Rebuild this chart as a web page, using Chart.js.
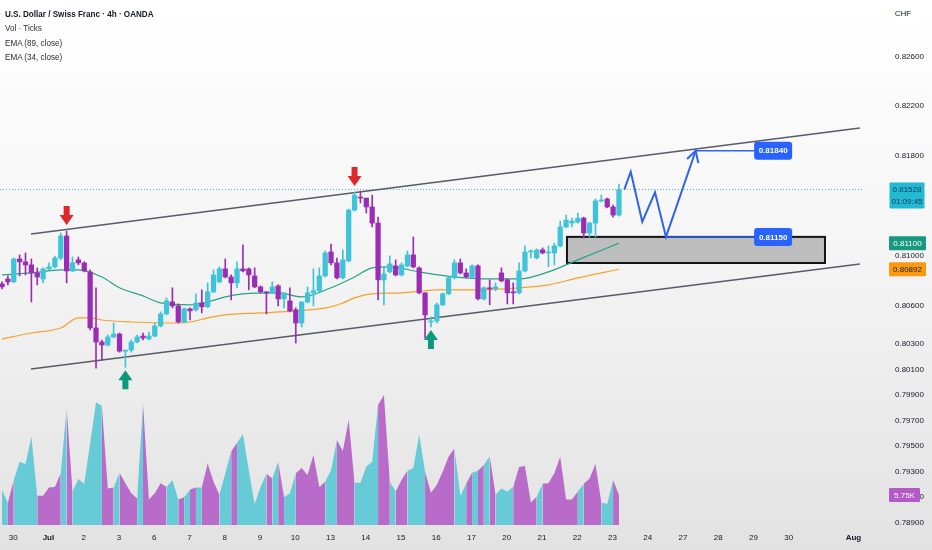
<!DOCTYPE html>
<html lang="en">
<head>
<meta charset="UTF-8">
<title>USDCHF 4h</title>
<script src="https://cdn.jsdelivr.net/npm/chart.js"></script>
<style>
  html, body { margin: 0; padding: 0; }
  body {
    width: 932px; height: 550px; overflow: hidden; position: relative;
    background: linear-gradient(to bottom, #ffffff 0%, #f5f5f5 45%, #e2e2e2 100%);
    font-family: "Liberation Sans", Arial, sans-serif;
  }
  #chart { position: absolute; left: 0; top: 0; }
  #legend {
    position: absolute; left: 5px; top: 7px; font-size: 9px; line-height: 14.3px;
    color: #131722; transform: scaleX(0.9); transform-origin: left top; white-space: nowrap;
  }
  #legend .sub { color: #2a2e39; }
  #ccy {
    position: absolute; left: 892px; top: 5px; width: 22px; height: 18px; background: #fff;
    font-size: 8px; line-height: 18px; text-align: center; color: #131722;
  }
</style>
</head>
<body>
<canvas id="chart" width="932" height="550"></canvas>
<div id="legend">
  <div><b>U.S. Dollar / Swiss Franc · 4h · OANDA</b></div>
  <div class="sub">Vol · Ticks</div>
  <div class="sub">EMA (89, close)</div>
  <div class="sub">EMA (34, close)</div>
</div>
<div id="ccy">CHF</div>

<script>
// 4h candles
const opens = [0.80776,0.80815,0.80792,0.80974,0.80951,0.80927,0.80863,0.80815,0.80895,0.80911,
  0.80982,0.81157,0.80879,0.80967,0.80943,0.80871,0.80427,0.80316,0.80292,0.80356,
  0.80379,0.80244,0.80252,0.80316,0.80363,0.80340,0.80363,0.80443,0.80538,0.80633,
  0.80602,0.80474,0.80578,0.80570,0.80625,0.80594,0.80713,0.80792,0.80895,0.80831,
  0.80784,0.80895,0.80895,0.80839,0.80752,0.80713,0.80705,0.80760,0.80657,0.80641,
  0.80570,0.80466,0.80633,0.80705,0.80721,0.80839,0.81030,0.80943,0.80824,0.80959,
  0.81364,0.81468,0.81460,0.81389,0.81260,0.80808,0.80871,0.80919,0.80847,0.80919,
  0.81006,0.80903,0.80705,0.80474,0.80482,0.80610,0.80697,0.80824,0.80943,0.80863,
  0.80831,0.80919,0.80657,0.80745,0.80737,0.80863,0.80808,0.80713,0.80705,0.80879,
  0.81030,0.80982,0.81046,0.81022,0.81022,0.81078,0.81229,0.81260,0.81268,0.81300,
  0.81181,0.81260,0.81437,0.81453,0.81389,0.81324];
const highs = [0.80792,0.80839,0.80982,0.81006,0.81022,0.80974,0.80903,0.80903,0.80943,0.80998,
  0.81181,0.81197,0.80990,0.80990,0.80951,0.80887,0.80745,0.80332,0.80371,0.80466,
  0.80387,0.80252,0.80332,0.80371,0.80387,0.80395,0.80466,0.80554,0.80665,0.80745,
  0.80617,0.80586,0.80586,0.80697,0.80729,0.80784,0.80887,0.80911,0.80974,0.80847,
  0.80951,0.81086,0.80903,0.80903,0.80760,0.80713,0.80792,0.80768,0.80705,0.80745,
  0.80586,0.80633,0.80752,0.80895,0.80903,0.81038,0.81093,0.80982,0.81046,0.81372,
  0.81508,0.81516,0.81460,0.81484,0.81308,0.80911,0.80998,0.80967,0.80943,0.81038,
  0.81149,0.80911,0.80705,0.80514,0.80625,0.80705,0.80831,0.80967,0.80974,0.80895,
  0.80927,0.80927,0.80752,0.80808,0.80784,0.80903,0.80815,0.80784,0.80943,0.81078,
  0.81046,0.81054,0.81062,0.81078,0.81101,0.81276,0.81324,0.81300,0.81340,0.81308,
  0.81268,0.81453,0.81484,0.81460,0.81405,0.81572];
const lows = [0.80736,0.80768,0.80784,0.80839,0.80847,0.80633,0.80768,0.80784,0.80887,0.80903,
  0.80967,0.80784,0.80871,0.80927,0.80871,0.80411,0.80109,0.80173,0.80284,0.80348,
  0.80236,0.80117,0.80236,0.80308,0.80332,0.80332,0.80356,0.80435,0.80530,0.80586,
  0.80466,0.80466,0.80490,0.80562,0.80546,0.80586,0.80705,0.80784,0.80824,0.80649,
  0.80745,0.80871,0.80729,0.80745,0.80705,0.80538,0.80697,0.80602,0.80586,0.80554,
  0.80308,0.80435,0.80625,0.80602,0.80713,0.80831,0.80927,0.80815,0.80815,0.80951,
  0.81356,0.81421,0.81340,0.81229,0.80649,0.80610,0.80863,0.80839,0.80839,0.80911,
  0.80903,0.80697,0.80348,0.80435,0.80466,0.80602,0.80689,0.80815,0.80855,0.80824,
  0.80824,0.80649,0.80649,0.80610,0.80721,0.80792,0.80617,0.80617,0.80697,0.80871,
  0.80982,0.80974,0.81014,0.80911,0.80927,0.81070,0.81221,0.81229,0.81260,0.81141,
  0.81149,0.81149,0.81429,0.81382,0.81308,0.81316];
const closes = [0.80752,0.80792,0.80974,0.80951,0.80927,0.80863,0.80831,0.80895,0.80911,0.80982,
  0.81157,0.80879,0.80943,0.80943,0.80879,0.80427,0.80316,0.80292,0.80356,0.80379,
  0.80244,0.80252,0.80316,0.80356,0.80348,0.80363,0.80443,0.80538,0.80641,0.80602,
  0.80474,0.80578,0.80562,0.80625,0.80594,0.80713,0.80847,0.80895,0.80831,0.80784,
  0.80895,0.80879,0.80847,0.80752,0.80713,0.80705,0.80752,0.80657,0.80705,0.80562,
  0.80466,0.80633,0.80705,0.80721,0.80839,0.81022,0.80943,0.80824,0.80967,0.81364,
  0.81484,0.81460,0.81389,0.81260,0.80808,0.80855,0.80935,0.80847,0.80927,0.81006,
  0.80911,0.80705,0.80530,0.80482,0.80610,0.80697,0.80824,0.80943,0.80863,0.80831,
  0.80919,0.80657,0.80745,0.80737,0.80752,0.80800,0.80705,0.80705,0.80879,0.81030,
  0.81038,0.81046,0.81022,0.81030,0.81078,0.81229,0.81284,0.81276,0.81300,0.81181,
  0.81260,0.81437,0.81445,0.81389,0.81324,0.81528];

// volume in thousands of ticks, plus the colour of each area segment (c = cyan, p = purple)
const volumes = [6.7,4.2,8.6,12.1,11.7,16.9,5.6,5.6,7.2,7.3,
  9.9,22.4,6.4,8.8,7.9,15.7,23.5,22.8,7.0,7.2,
  10.0,8.0,6.1,5.1,23.3,4.9,6.1,8.0,7.3,8.6,
  4.9,5.3,6.8,7.2,7.2,11.8,8.3,5.8,9.9,14.1,
  15.7,17.4,10.5,4.0,7.3,9.8,8.9,12.1,5.3,6.1,
  9.9,10.9,9.6,13.4,7.3,8.3,10.5,16.3,14.2,20.1,
  8.1,8.1,11.2,12.1,23.0,24.9,8.3,6.4,8.6,10.4,
  10.9,17.3,10.2,6.2,7.7,10.2,13.1,14.7,5.6,7.9,
  10.0,10.4,11.5,13.2,5.8,7.0,6.4,7.3,11.1,11.3,
  4.3,5.4,7.9,8.0,9.9,13.1,4.9,4.9,6.4,7.9,
  8.9,11.7,4.3,4.0,8.6,5.75];
const volSides = ('c p cccc pppp c p ccccc pp c ppp c pppp cc p c p c ppp cc p ccccc p c p cc ' +
  'ppppp cc ppp cccc pp c pp ccc ppppp cc p c p c p ccc pppp c pppppp c ppp cc p').replace(/ /g, '');

// moving averages, sampled at candle indexes
const ema34Idx = [0,5,10,13,17,20,24,27,32,35,38,41,47,51,56,60,63,66,71,77,83,88,93,98,105];
const ema34 = [0.80847,0.80863,0.80887,0.80887,0.80831,0.80745,0.80681,0.80625,0.80610,0.80633,
  0.80673,0.80697,0.80705,0.80673,0.80745,0.80831,0.80903,0.80911,0.80871,0.80831,
  0.80815,0.80815,0.80871,0.80967,0.81100];
const ema89Idx = [0,5,10,13,15,17,22,29,32,35,38,44,50,56,58,60,63,68,74,80,88,93,98,105];
const ema89 = [0.80340,0.80387,0.80427,0.80506,0.80506,0.80490,0.80474,0.80466,0.80474,0.80506,
  0.80530,0.80546,0.80562,0.80594,0.80625,0.80665,0.80697,0.80705,0.80729,0.80729,
  0.80745,0.80768,0.80824,0.80892];

// axes
const dayTickPos = [1.9,7.9,13.9,19.9,25.9,31.9,37.9,43.9,49.9,55.9,61.9,67.9,73.9,79.9,
  85.9,91.9,97.9,103.9,109.9,115.9,121.9,127.9,133.9,144.9];
const dayTickLabels = ['30','Jul','2','3','6','7','8','9','10','13','14','15','16','17',
  '20','21','22','23','24','27','28','29','30','Aug'];
const monthLabels = ['Jul', 'Aug'];
const priceTicks = [0.826,0.822,0.818,0.810,0.806,0.803,0.801,0.799,0.797,0.795,0.793,0.791,0.789];
const lastPrice = 0.81528;
const countdown = '01:09:45';

// drawings
const channelIdx = [4.94, 146.0];
const upperChannel = [0.81173, 0.82023];
const lowerChannel = [0.80103, 0.80934];
const pathIdx = [105.9, 107.0, 108.97, 111.13, 113.0, 118.06];
const pathPrice = [0.81528, 0.81671, 0.81271, 0.81506, 0.81150, 0.81840];
const arrowHeadIdx = [116.6, 118.06, 118.5];
const arrowHeadPrice = [0.81773, 0.81840, 0.81741];
const targetPrices = [0.81840, 0.81150];
const targetFromIdx = [118.06, 113.0];
const targetLabelIdx = 128.0;
const zoneIdx = [96.15, 140.06];
const zonePrice = [0.81150, 0.80942];
const sellArrowIdx = [11, 60];
const buyArrowIdx = [21, 73];

const FONT = '"Liberation Sans", Arial, sans-serif';
const C_UP = '#3ec3d8', C_DN = '#9a2db4';
const V_UP = '#67cad7', V_DN = '#b96bc9';
const BLUE = '#2f63e8';
const X_MIN = -0.34, X_MAX = 146.36;

const isUp = i => closes[i] >= opens[i];
const pts = (xs, ys) => xs.map((x, i) => ({x: x, y: ys[i]}));

function boxAt(ctx, x, y, w, h, r, fill) {
  ctx.beginPath();
  if (ctx.roundRect) ctx.roundRect(x, y, w, h, r); else ctx.rect(x, y, w, h);
  ctx.fillStyle = fill;
  ctx.fill();
}

function drawArrow(ctx, x, tipY, dir, colour) {
  // dir 1 points down, -1 points up
  const headH = 10, headW = 14, stemH = 9, stemW = 6;
  ctx.beginPath();
  ctx.moveTo(x, tipY);
  ctx.lineTo(x - headW / 2, tipY - dir * headH);
  ctx.lineTo(x - stemW / 2, tipY - dir * headH);
  ctx.lineTo(x - stemW / 2, tipY - dir * (headH + stemH));
  ctx.lineTo(x + stemW / 2, tipY - dir * (headH + stemH));
  ctx.lineTo(x + stemW / 2, tipY - dir * headH);
  ctx.lineTo(x + headW / 2, tipY - dir * headH);
  ctx.closePath();
  ctx.fillStyle = colour;
  ctx.fill();
}

const overlays = {
  id: 'overlays',
  beforeDatasetsDraw(chart) {
    const {ctx, scales: {x, y}} = chart;
    const x0 = x.getPixelForValue(zoneIdx[0]), x1 = x.getPixelForValue(zoneIdx[1]);
    const y0 = y.getPixelForValue(zonePrice[0]), y1 = y.getPixelForValue(zonePrice[1]);
    ctx.save();
    ctx.fillStyle = '#bebebe';
    ctx.fillRect(x0, y0, x1 - x0, y1 - y0);
    ctx.strokeStyle = '#141414';
    ctx.lineWidth = 2;
    ctx.strokeRect(x0, y0, x1 - x0, y1 - y0);
    ctx.restore();
  },
  afterDatasetsDraw(chart) {
    const {ctx, scales: {x, y}} = chart;
    ctx.save();
    sellArrowIdx.forEach(i => drawArrow(ctx, x.getPixelForValue(i), y.getPixelForValue(highs[i]) - 6, 1, '#e0262b'));
    buyArrowIdx.forEach(i => drawArrow(ctx, x.getPixelForValue(i), y.getPixelForValue(lows[i]) + 3, -1, '#0b9a7c'));

    ctx.font = 'bold 8px ' + FONT;
    ctx.textAlign = 'center';
    ctx.textBaseline = 'middle';
    targetPrices.forEach(p => {
      const lx = x.getPixelForValue(targetLabelIdx), py = y.getPixelForValue(p);
      boxAt(ctx, lx, py - 9, 38, 18, 3, '#2962ff');
      ctx.fillStyle = '#ffffff';
      ctx.fillText(p.toFixed(5), lx + 19, py + 0.5);
    });
    ctx.restore();
  },
  afterDraw(chart) {
    const {ctx, scales: {y, vol}} = chart;
    ctx.save();
    ctx.font = '8px ' + FONT;
    ctx.textAlign = 'center';
    ctx.textBaseline = 'middle';

    const tag = (val, py, bg, fg, w) => {
      boxAt(ctx, 889, py - 7, w, 14, 1, bg);
      ctx.fillStyle = fg;
      ctx.fillText(val, 889 + w / 2, py + 0.5);
    };
    tag(ema34[ema34.length - 1].toFixed(5), y.getPixelForValue(ema34[ema34.length - 1]), '#17997f', '#ffffff', 37);
    tag(ema89[ema89.length - 1].toFixed(5), y.getPixelForValue(ema89[ema89.length - 1]), '#fb9a10', '#1d1d1d', 37);
    tag(volumes[volumes.length - 1].toFixed(2) + 'K', vol.getPixelForValue(volumes[volumes.length - 1]), '#b25ac8', '#ffffff', 31);

    const py = y.getPixelForValue(lastPrice);
    boxAt(ctx, 889.5, py - 7, 35, 26, 1, '#22b9d3');
    ctx.fillStyle = '#0d3a5a';
    ctx.fillText(lastPrice.toFixed(5), 907, py + 0.5);
    ctx.fillText(countdown, 907, py + 12.5);
    ctx.restore();
  }
};

new Chart(document.getElementById('chart'), {
  type: 'bar',
  data: {
    datasets: [
      {
        type: 'line', label: 'path', data: pts(pathIdx, pathPrice),
        borderColor: BLUE, borderWidth: 2, pointRadius: 0, tension: 0, order: 1
      },
      {
        type: 'line', label: 'arrow head', data: pts(arrowHeadIdx, arrowHeadPrice),
        borderColor: BLUE, borderWidth: 2, pointRadius: 0, tension: 0, order: 1
      },
      {
        type: 'line', label: 'target high', data: pts([targetFromIdx[0], targetLabelIdx], [targetPrices[0], targetPrices[0]]),
        borderColor: BLUE, borderWidth: 1.5, pointRadius: 0, order: 1
      },
      {
        type: 'line', label: 'target low', data: pts([targetFromIdx[1], targetLabelIdx], [targetPrices[1], targetPrices[1]]),
        borderColor: BLUE, borderWidth: 1.5, pointRadius: 0, order: 1
      },
      {
        type: 'bar', label: 'bodies',
        data: opens.map((o, i) => ({x: i, y: [o, closes[i]]})),
        grouped: false, barThickness: 4.6, minBarLength: 1,
        backgroundColor: c => isUp(c.dataIndex) ? C_UP : C_DN, order: 2
      },
      {
        type: 'bar', label: 'wicks',
        data: lows.map((l, i) => ({x: i, y: [l, highs[i]]})),
        grouped: false, barThickness: 1, minBarLength: 1,
        backgroundColor: c => isUp(c.dataIndex) ? C_UP : C_DN, order: 3
      },
      {
        type: 'line', label: 'upper channel', data: pts(channelIdx, upperChannel),
        borderColor: '#585c66', borderWidth: 1.6, pointRadius: 0, order: 4
      },
      {
        type: 'line', label: 'lower channel', data: pts(channelIdx, lowerChannel),
        borderColor: '#585c66', borderWidth: 1.6, pointRadius: 0, order: 4
      },
      {
        type: 'line', label: 'EMA 34', data: pts(ema34Idx, ema34),
        borderColor: '#27a386', borderWidth: 1.2, pointRadius: 0, cubicInterpolationMode: 'monotone', order: 5
      },
      {
        type: 'line', label: 'EMA 89', data: pts(ema89Idx, ema89),
        borderColor: '#f6a22a', borderWidth: 1.2, pointRadius: 0, cubicInterpolationMode: 'monotone', order: 6
      },
      {
        type: 'line', label: 'last price', data: pts([X_MIN, X_MAX], [lastPrice, lastPrice]),
        borderColor: '#3fbad0', borderWidth: 1, borderDash: [1, 2], pointRadius: 0, order: 7
      },
      {
        type: 'line', label: 'Vol', yAxisID: 'vol',
        data: volumes.map((v, i) => ({x: i, y: v})),
        fill: 'origin', borderWidth: 0, borderColor: 'rgba(0,0,0,0)', backgroundColor: V_UP,
        pointRadius: 0, tension: 0,
        segment: { backgroundColor: s => volSides[s.p0DataIndex] === 'c' ? V_UP : V_DN },
        order: 9
      }
    ]
  },
  options: {
    responsive: false,
    animation: false,
    devicePixelRatio: 1,
    layout: { padding: 0 },
    plugins: { legend: { display: false }, tooltip: { enabled: false } },
    scales: {
      x: {
        type: 'linear', min: X_MIN, max: X_MAX, offset: false,
        grid: { display: false, drawTicks: false }, border: { display: false },
        afterBuildTicks: a => { a.ticks = dayTickPos.map(v => ({value: v})); },
        afterFit: a => { a.height = 22; a.paddingLeft = 0; a.paddingRight = 0; },
        ticks: {
          autoSkip: false, maxRotation: 0, minRotation: 0, padding: 5, color: '#131722',
          font: c => ({family: FONT, size: 8, weight: monthLabels.includes(dayTickLabels[c.index]) ? 'bold' : 'normal'}),
          callback: (v, i) => dayTickLabels[i]
        }
      },
      y: {
        type: 'logarithmic', position: 'right', min: 0.788612, max: 0.830613, beginAtZero: false,
        grid: { display: false, drawTicks: false }, border: { display: false },
        afterBuildTicks: a => { a.ticks = priceTicks.map(v => ({value: v})); },
        afterFit: a => { a.width = 70; a.paddingTop = 0; a.paddingBottom = 0; },
        ticks: {
          autoSkip: false, padding: 33, crossAlign: 'near', color: '#131722',
          font: { family: FONT, size: 8 },
          callback: v => Number(v).toFixed(5)
        }
      },
      vol: { type: 'linear', display: false, min: -0.575, max: 100.6, beginAtZero: false }
    }
  },
  plugins: [overlays]
});
</script>
</body>
</html>
